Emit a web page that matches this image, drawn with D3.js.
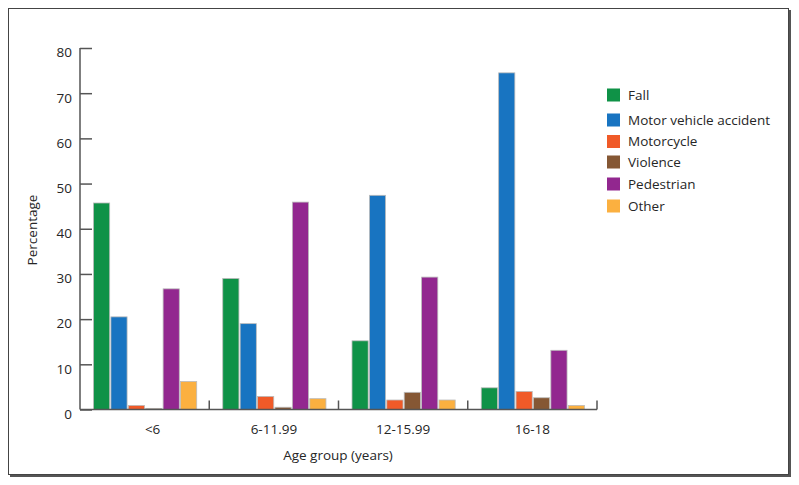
<!DOCTYPE html>
<html><head><meta charset="utf-8">
<script src="https://cdn.jsdelivr.net/npm/d3@7"></script>
<style>
html,body{margin:0;padding:0;background:#fff;}
svg{display:block;}
text{font-family:"Open Sans","Noto Sans",sans-serif;fill:#262626;}
</style></head>
<body><svg id="chart" width="799" height="485"></svg>
<script>
const categories = ["<6", "6-11.99", "12-15.99", "16-18"];
const seriesNames = ["Fall", "Motor vehicle accident", "Motorcycle", "Violence", "Pedestrian", "Other"];
const seriesColors = ["#0f9247", "#1874c1", "#f05a28", "#855734", "#92278f", "#fbb040"];
const fall       = [45.7, 29.0, 15.2, 4.8];
const motorVeh   = [20.5, 19.0, 47.4, 74.5];
const motorcycle = [0.9, 2.9, 2.1, 4.0];
const violence   = [0.25, 0.5, 3.8, 2.6];
const pedestrian = [26.7, 45.9, 29.3, 13.1];
const other      = [6.2, 2.4, 2.1, 0.9];
const yTicks = [0, 10, 20, 30, 40, 50, 60, 70, 80];
const seriesValues = [fall, motorVeh, motorcycle, violence, pedestrian, other];

const svg = d3.select("#chart");

// frame
svg.append("rect").attr("x", 10).attr("y", 10).attr("width", 781).attr("height", 467)
  .attr("fill", "#555");
svg.append("rect").attr("x", 8.5).attr("y", 8.5).attr("width", 780).attr("height", 466)
  .attr("fill", "#fff").attr("stroke", "#444").attr("stroke-width", 1);

const x0 = d3.scaleBand().domain(categories).range([80, 597]).padding(0);
const x1 = d3.scaleBand().domain(d3.range(seriesNames.length))
  .range([13.5, 13.5 + 103.2]).paddingInner(0.07).paddingOuter(0);
const y = d3.scaleLinear().domain([0, 80]).range([409.5, 48]);

// bars
const groups = svg.append("g").selectAll("g").data(categories).join("g")
  .attr("transform", d => `translate(${x0(d)},0)`);
groups.selectAll("rect")
  .data((c, ci) => seriesValues.map((vals, si) => ({si, v: vals[ci]})))
  .join("rect")
  .attr("x", d => x1(d.si))
  .attr("width", x1.bandwidth())
  .attr("y", d => y(d.v))
  .attr("height", d => y(0) - y(d.v))
  .attr("fill", d => seriesColors[d.si])
  .attr("stroke", "#bbb").attr("stroke-width", 0.8);

// y axis
const yAxis = d3.axisRight(y).tickValues(yTicks).tickSize(12).tickFormat("");
const gy = svg.append("g").attr("transform", "translate(80,0)").call(yAxis);
gy.select(".domain").attr("stroke", "#555").attr("stroke-width", 1.5).attr("d", `M0,${y(80)}V${y(0)}`);
gy.selectAll(".tick line").attr("stroke", "#555").attr("stroke-width", 1.5);
svg.append("g").selectAll("text").data(yTicks).join("text")
  .attr("x", 72).attr("y", d => y(d) + 5).attr("dy", "0.32em")
  .attr("text-anchor", "end").attr("font-size", 13.5).text(d => d);

// x axis
const xAxis = d3.axisTop(x0).tickSize(0).tickFormat("");
const gx = svg.append("g").attr("transform", `translate(0,${y(0)})`).call(xAxis);
gx.select(".domain").attr("stroke", "#555").attr("stroke-width", 1.5).attr("d", "M80,0H597");
svg.append("g").selectAll("line").data(categories).join("line")
  .attr("x1", d => x0(d) + x0.bandwidth()).attr("x2", d => x0(d) + x0.bandwidth())
  .attr("y1", y(0)).attr("y2", y(0) - 9)
  .attr("stroke", "#555").attr("stroke-width", 1.5);
svg.append("g").selectAll("text").data(categories).join("text")
  .attr("x", (d, i) => x0(d) + x0.bandwidth() / 2 + (i === 0 ? 8 : 0))
  .attr("y", 434).attr("text-anchor", "middle").attr("font-size", 13.5).text(d => d);

// axis titles
svg.append("text").attr("x", 338).attr("y", 460).attr("text-anchor", "middle")
  .attr("font-size", 13.5).text("Age group (years)");
svg.append("text").attr("transform", "translate(37,230) rotate(-90)")
  .attr("text-anchor", "middle").attr("font-size", 13.5).text("Percentage");

// legend
const legendY = [95, 120, 141.5, 162, 184, 206];
const lg = svg.append("g").selectAll("g").data(seriesNames).join("g")
  .attr("transform", (d, i) => `translate(607,${legendY[i]})`);
lg.append("rect").attr("x", 0).attr("y", -6.5).attr("width", 13).attr("height", 13)
  .attr("fill", (d, i) => seriesColors[i]);
lg.append("text").attr("x", 21).attr("y", 0).attr("dy", "0.35em")
  .attr("font-size", 13.5).text(d => d);
</script></body></html>
